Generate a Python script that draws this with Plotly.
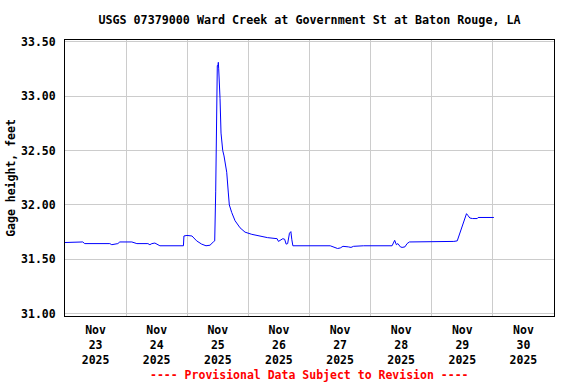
import pandas as pd
import plotly.graph_objects as go

# Hours since 2025-11-23 00:00 and gage height (feet)
hours = [0, 4.21, 4.60, 6.96, 7.75, 17.59, 18.37, 19.16, 20.73, 21.52,
         26.24, 28.21, 32.54, 33.32, 34.11, 35.29, 36.47, 37.26, 46.5, 46.70,
         47.88, 49.85, 51.70, 53.66, 55.36, 56.93, 58.23, 58.78, 59.17, 59.41,
         59.80, 60.08, 60.20, 60.35, 60.59, 60.87, 61.26, 61.53, 61.93, 62.44,
         63.50, 64.13, 64.52, 65.47, 66.77, 68.73, 70.70, 73.34, 76.60, 79.48,
         83.29, 83.80, 85.53, 86.24, 86.83, 87.42, 88.13, 88.68, 89.07, 89.47,
         104.14, 105.32, 107.02, 108.08, 109.14, 111.23, 112.29, 113.31, 117.25, 128.42,
         129.05, 129.44, 130.11, 130.70, 131.68, 132.35, 133.46, 134.32, 135.23, 136.41,
         137.59, 152.66, 154.00, 154.62, 155.29, 155.96, 156.59, 157.26, 157.65, 158.16,
         158.95, 160.01, 161.86, 162.18, 168.39]
gage = [31.655, 31.655, 31.66, 31.66, 31.645, 31.645, 31.635, 31.64, 31.645, 31.66,
        31.66, 31.645, 31.645, 31.635, 31.645, 31.65, 31.635, 31.625, 31.625, 31.715,
        31.72, 31.715, 31.67, 31.64, 31.625, 31.63, 31.66, 31.67, 32.12, 32.91,
        33.28, 33.28, 33.31, 33.25, 33.15, 32.98, 32.66, 32.55, 32.50, 32.45,
        32.30, 32.11, 32.00, 31.93, 31.855, 31.79, 31.75, 31.73, 31.715, 31.70,
        31.69, 31.665, 31.69, 31.685, 31.64, 31.645, 31.74, 31.755, 31.68, 31.625,
        31.625, 31.615, 31.60, 31.605, 31.62, 31.615, 31.61, 31.62, 31.625, 31.625,
        31.665, 31.675, 31.635, 31.645, 31.615, 31.61, 31.615, 31.645, 31.66, 31.66,
        31.665, 31.665, 31.67, 31.71, 31.75, 31.80, 31.85, 31.89, 31.92, 31.905,
        31.88, 31.875, 31.875, 31.885, 31.885]

start = pd.Timestamp("2025-11-23 00:00")
times = [start + pd.Timedelta(hours=h) for h in hours]

x_range = ["2025-11-23 00:00", "2025-12-01 00:00"]
y_range = [30.98, 33.515]
y_ticks = [31.0, 31.5, 32.0, 32.5, 33.0, 33.5]

title_text = "USGS 07379000 Ward Creek at Government St at Baton Rouge, LA"
y_title = "Gage height, feet"
note = "---- Provisional Data Subject to Revision ----"

FONT = "DejaVu Sans Mono"

fig = go.Figure()
fig.add_trace(go.Scatter(x=times, y=gage, mode="lines",
                         line=dict(color="#0000FF", width=1),
                         showlegend=False, hoverinfo="skip"))

fig.update_layout(
    width=576, height=384, autosize=False,
    margin=dict(l=65, r=22, t=40, b=68, autoexpand=False),
    paper_bgcolor="white", plot_bgcolor="white",
    font=dict(family=FONT, size=11.5, color="black", weight="bold"),
    title=dict(text=title_text, x=0.5, xref="paper", xanchor="center",
               y=1 - 20 / 384, yanchor="middle", automargin=False,
               font=dict(family=FONT, size=11.7, color="black", weight="bold")),
    xaxis=dict(type="date", range=x_range, tick0="2025-11-23", dtick=86400000,
               ticklabelmode="period", tickformat="%b<br>%d<br>%Y",
               showgrid=True, gridcolor="#CCCCCC", gridwidth=1,
               showline=True, linecolor="black", linewidth=1, mirror=True,
               ticks="", zeroline=False, ticklabelstandoff=3, automargin=False,
               tickfont=dict(family=FONT, size=11.5, color="black", weight="bold")),
    yaxis=dict(range=y_range, tickvals=y_ticks, tickformat=".2f",
               showgrid=True, gridcolor="#CCCCCC", gridwidth=1,
               showline=True, linecolor="black", linewidth=1, mirror=True,
               ticks="", zeroline=False, ticklabelstandoff=6, automargin=False,
               title=dict(text=y_title, standoff=3,
                          font=dict(family=FONT, size=11.5, color="black", weight="bold")),
               tickfont=dict(family=FONT, size=11.5, color="black", weight="bold")),
    annotations=[dict(text=note, xref="paper", yref="paper", x=0.5, y=-(375 - 316) / 276,
                      xanchor="center", yanchor="middle", showarrow=False,
                      font=dict(family=FONT, size=11.5, color="#FF0000", weight="bold"))],
)

fig.write_html("out.html", config={"displayModeBar": False},
               post_script="document.body.style.margin='0';document.body.style.overflow='hidden';")
